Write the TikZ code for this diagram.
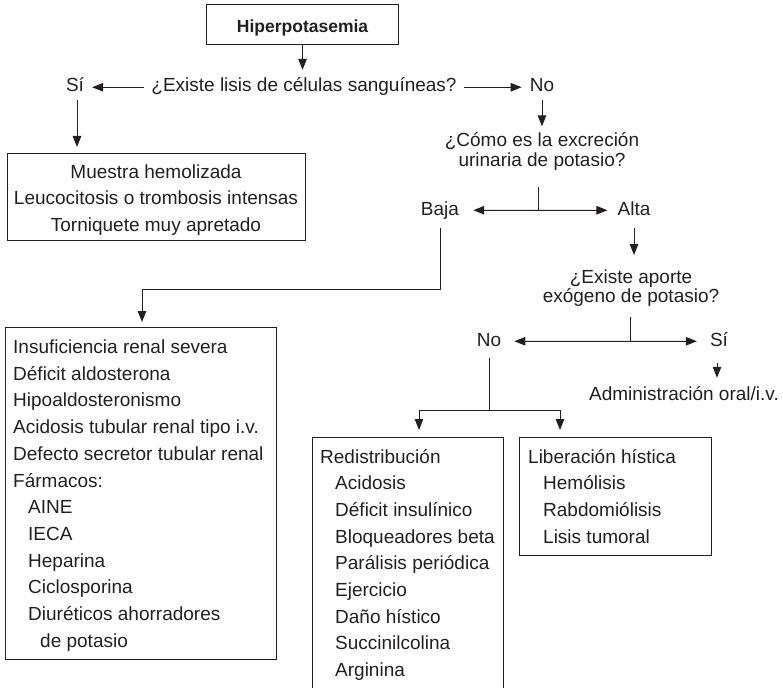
\documentclass[tikz,border=0pt]{standalone}
\usepackage{fontspec}
\setmainfont{Liberation Sans}
\usetikzlibrary{arrows.meta,calc}
\newcommand\Lsz{\fontsize{19bp}{26.7bp}\selectfont}
\newcommand\Qsz{\fontsize{19bp}{19.5bp}\selectfont}
\definecolor{ink}{HTML}{231F20}
\tikzset{
  box/.style={draw=ink, line width=1.1bp, inner sep=0pt, anchor=north west},
  lbl/.style={inner sep=0pt, anchor=base, font=\Lsz, text height=13.5bp, text depth=4bp, text=ink},
  txt/.style={inner sep=0pt, anchor=base west, font=\Lsz, text=ink},
  ctxt/.style={inner sep=0pt, anchor=base, font=\Lsz, text=ink},
  qtxt/.style={inner sep=0pt, anchor=base, font=\Qsz, text=ink},
  ln/.style={draw=ink, line width=1bp},
  arr/.style={ln, -{Triangle[length=11bp,width=8.5bp]}},
}
\begin{document}
\begin{tikzpicture}[x=1bp, y=-1bp]
\useasboundingbox (0,0) rectangle (783,688);
\clip (0,0) rectangle (783,688);

% title
\node[box, minimum width=192bp, minimum height=40bp, text height=16bp, text depth=0bp, text=ink,
      font=\bfseries\fontsize{17.5bp}{20bp}\selectfont] (title) at (206,4) {Hiperpotasemia};

% first question
\node[lbl] (q1) at (304,92) {¿Existe lisis de células sanguíneas?};
\node[lbl] (si1) at (75,92) {Sí};
\node[lbl] (no1) at (542,92) {No};

\draw[arr, shorten >=8.5bp] (title.south) -- (title.south |- q1.north);
\draw[arr, shorten <=7bp, shorten >=8bp] (q1.west) -- (si1.east);
\draw[arr, shorten <=7bp, shorten >=8bp] (q1.east) -- (no1.west);

% box 1
\node[box, minimum width=298bp, minimum height=87bp] (b1) at (7,153) {};
\node[ctxt] (t1) at (156,178) {\begin{tabular}[t]{@{}c@{}}Muestra hemolizada\\Leucocitosis o trombosis intensas\\Torniquete muy apretado\end{tabular}};
\draw[arr, shorten <=4bp, shorten >=6bp] ([xshift=2bp]si1.south) -- ([xshift=2bp]si1.south |- b1.north);

% second question
\node[qtxt] (q2) at (542,147) {\begin{tabular}[t]{@{}c@{}}¿Cómo es la excreción\\urinaria de potasio?\end{tabular}};
\draw[arr, shorten <=4bp, shorten >=6.5bp] (no1.south) -- (no1.south |- q2.north);

\node[lbl] (baja) at (440,215) {Baja};
\node[lbl] (alta) at (634,215) {Alta};
\coordinate (f1) at (538,210.25);
\draw[ln, shorten <=14bp] (f1 |- q2.south) -- (f1);
\draw[arr, shorten >=14bp] (f1) -- (baja.east);
\draw[arr, shorten >=10bp] (f1) -- (alta.west);

% box 2
\node[box, minimum width=271bp, minimum height=332bp] (b2) at (5,327) {};
\node[txt] (t2) at (13,353.5) {\begin{tabular}[t]{@{}l@{}}
Insuficiencia renal severa\\
Déficit aldosterona\\
Hipoaldosteronismo\\
Acidosis tubular renal tipo i.v.\\
Defecto secretor tubular renal\\
Fármacos:\\
\hspace*{15bp}AINE\\
\hspace*{15bp}IECA\\
\hspace*{15bp}Heparina\\
\hspace*{15bp}Ciclosporina\\
\hspace*{15bp}Diuréticos ahorradores\\
\hspace*{27bp}de potasio
\end{tabular}};
\coordinate (k2) at (142,289);
\draw[arr, shorten <=9bp, shorten >=5bp] (baja.south) |- (k2) -- (k2 |- b2.north);

% third question
\node[qtxt] (q3) at (631,283) {\begin{tabular}[t]{@{}c@{}}¿Existe aporte\\exógeno de potasio?\end{tabular}};
\draw[arr, shorten <=9bp, shorten >=14bp] (alta.south) -- (alta.south |- q3.north);

\node[lbl] (no2) at (489,346) {No};
\node[lbl] (si2) at (719,346) {Sí};
\coordinate (f2) at (630,341.25);
\draw[ln, shorten <=8.5bp] (f2 |- q3.south) -- (f2);
\draw[arr, shorten >=13bp] (f2) -- (no2.east);
\draw[arr, shorten >=13bp] (f2) -- (si2.west);

\node[lbl] (admin) at (684,400) {Administración oral/i.v.};
\draw[arr, shorten <=13bp, shorten >=8.5bp] ([xshift=-2bp]si2.south) -- ([xshift=-2bp]si2.south |- admin.north);

% boxes 3 and 4
\node[box, minimum width=191bp, minimum height=300bp] (b3) at (312,437) {};
\node[box, minimum width=192bp, minimum height=118bp] (b4) at (519,437) {};
\node[txt] (t3) at (320,463) {\begin{tabular}[t]{@{}l@{}}
Redistribución\\
\hspace*{15bp}Acidosis\\
\hspace*{15bp}Déficit insulínico\\
\hspace*{15bp}Bloqueadores beta\\
\hspace*{15bp}Parálisis periódica\\
\hspace*{15bp}Ejercicio\\
\hspace*{15bp}Daño hístico\\
\hspace*{15bp}Succinilcolina\\
\hspace*{15bp}Arginina
\end{tabular}};
\node[txt] (t4) at (528,463) {\begin{tabular}[t]{@{}l@{}}
Liberación hística\\
\hspace*{15bp}Hemólisis\\
\hspace*{15bp}Rabdomiólisis\\
\hspace*{15bp}Lisis tumoral
\end{tabular}};

\coordinate (f3) at (489,410);
\coordinate (e3) at (419,437);
\coordinate (e4) at (560,437);
\draw[ln, shorten <=8bp] (no2.south) -- (f3);
\draw[arr, shorten >=7bp] (f3) -| (e3);
\draw[arr, shorten >=7bp] (f3) -| (e4);
\end{tikzpicture}
\end{document}
